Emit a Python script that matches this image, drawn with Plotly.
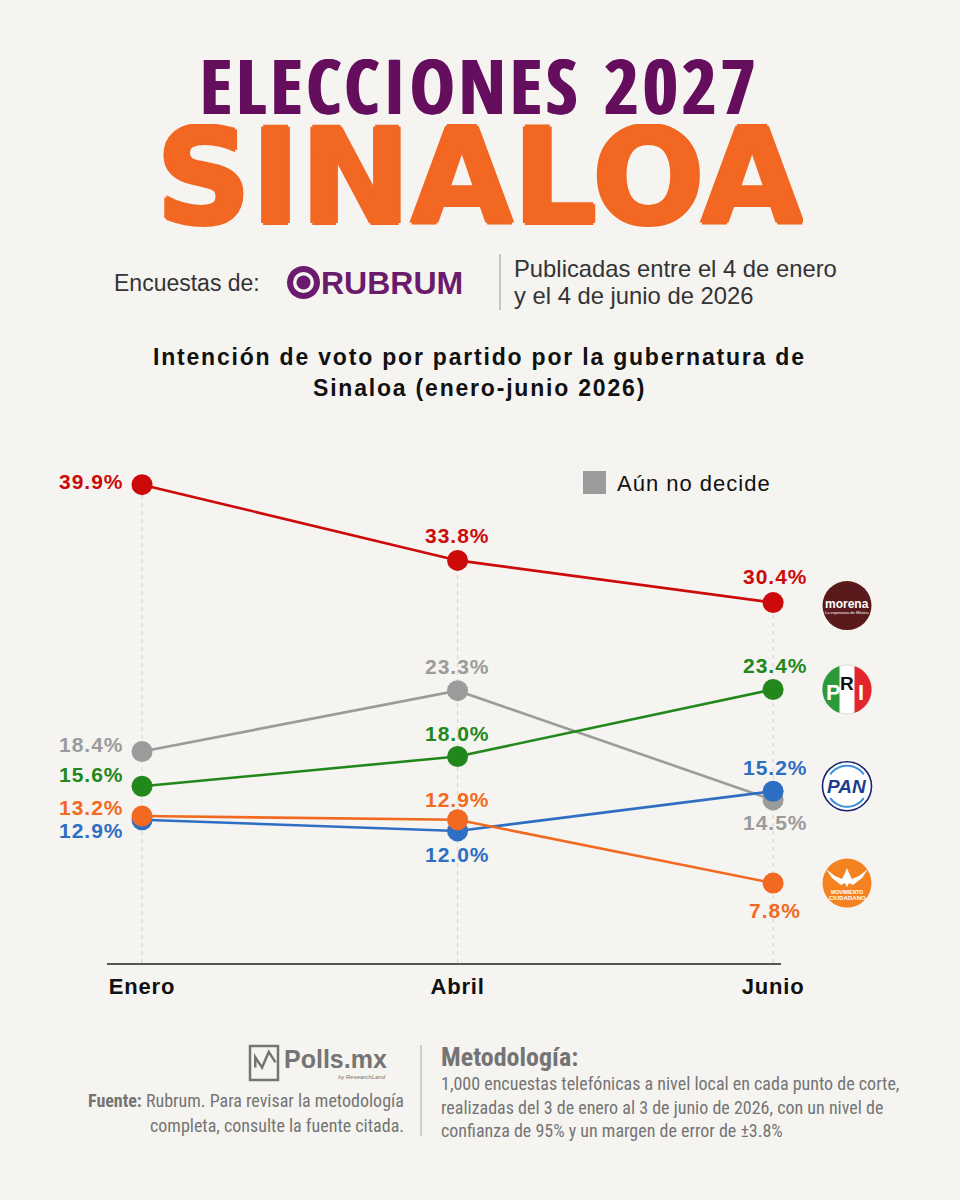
import math
import plotly.graph_objects as go

# ---------------- data ----------------
months = ["Enero", "Abril", "Junio"]
x_idx = [0, 1, 2]
undecided = [18.4, 23.3, 14.5]
pan = [12.9, 12.0, 15.2]
mc = [13.2, 12.9, 7.8]
pri = [15.6, 18.0, 23.4]
morena = [39.9, 33.8, 30.4]
legend_label = "Aún no decide"

# ---------------- styles ----------------
BG = "#f5f4f1"
C_GRAY = "#9b9b9b"
C_BLUE = "#2e6fc4"
C_ORANGE = "#f26a21"
C_GREEN = "#23881c"
C_RED = "#cc0a0a"
PURPLE = "#660e5e"
TITLE_ORANGE = "#f26722"
FONT = "Liberation Sans"
COND = "Roboto Condensed, Open Sans Condensed, Liberation Sans"

W, H = 960, 1200
L, R, T, B = 107, 781, 440, 963
Y_RANGE = [1.36, 43.5]
X_RANGE = [-0.111, 2.025]


def px(x):
    return (x - L) / (R - L)


def py(y):
    return (B - y) / (B - T)


def spaced(text, sp):
    return f'<span style="letter-spacing:{sp}px">{text}</span>'


series = [
    ("undecided", undecided, C_GRAY,
     [("right", -16, 7), ("center", 0, 24), ("center", 2, -23)]),
    ("pan", pan, C_BLUE,
     [("right", -16, -11), ("center", 0, -24), ("center", 2, 24)]),
    ("mc", mc, C_ORANGE,
     [("right", -16, 9), ("center", 0, 20), ("center", 2, -27)]),
    ("pri", pri, C_GREEN,
     [("right", -16, 12), ("center", 0, 23), ("center", 2, 24)]),
    ("morena", morena, C_RED,
     [("right", -16, 3), ("center", 0, 25), ("center", 2, 26)]),
]

fig = go.Figure()
annotations = []
shapes = []

for i in x_idx:
    top = max(s[1][i] for s in series)
    shapes.append(dict(type="line", xref="x", yref="y", x0=i, x1=i,
                       y0=Y_RANGE[0], y1=top, layer="below",
                       line=dict(color="#d2d2d2", width=1, dash="4px,4px")))

for name, vals, col, lab in series:
    fig.add_trace(go.Scatter(
        x=x_idx, y=vals, mode="lines+markers", name=name,
        line=dict(color=col, width=2.6),
        marker=dict(color=col, size=21, line=dict(width=0)),
        showlegend=False, cliponaxis=False, hoverinfo="skip"))
    for i, v in enumerate(vals):
        xa, xs, ys = lab[i]
        annotations.append(dict(
            x=x_idx[i], y=v, xref="x", yref="y", text=spaced(f"{v:.1f}%", 1),
            showarrow=False, xanchor=xa, yanchor="middle",
            xshift=xs, yshift=ys,
            font=dict(family=FONT, size=21, color=col, weight=700)))

# legend (undecided)
shapes.append(dict(type="rect", xref="paper", yref="paper",
                   x0=px(583), x1=px(606), y0=py(494), y1=py(471),
                   fillcolor=C_GRAY, line=dict(width=0)))
annotations.append(dict(x=px(615), y=py(483), xref="paper", yref="paper",
                        text=spaced(legend_label, 1), showarrow=False,
                        xanchor="left", yanchor="middle",
                        font=dict(family=FONT, size=22, color="#111")))

# ---------------- party logos (next to Junio points) ----------------
LOGO_X = px(847)
RAD = 24.5


def circ(val, dy, fill, line_col=None, lw=0, r=RAD):
    return dict(type="circle", xref="paper", yref="y", xsizemode="pixel",
                ysizemode="pixel", xanchor=LOGO_X, yanchor=val,
                x0=-r, x1=r, y0=dy - r, y1=dy + r,
                fillcolor=fill,
                line=dict(color=line_col or fill, width=lw))


def poly_path(points):
    return "M " + " L ".join(f"{a:.2f},{b:.2f}" for a, b in points) + " Z"


def open_path(points):
    return "M " + " L ".join(f"{a:.2f},{b:.2f}" for a, b in points)


def path_shape(val, path, fill=None, line_col=None, lw=0):
    d = dict(type="path", xref="paper", yref="y", xsizemode="pixel",
             ysizemode="pixel", xanchor=LOGO_X, yanchor=val, path=path,
             line=dict(color=line_col or "rgba(0,0,0,0)", width=lw))
    if fill:
        d["fillcolor"] = fill
    return d


def logo_text(val, dy, text, size, color, weight=700, style="normal",
              dx=0, family=FONT):
    annotations.append(dict(x=LOGO_X, y=val, xref="paper", yref="y",
                            text=text, showarrow=False, xanchor="center",
                            yanchor="middle", xshift=dx, yshift=dy,
                            font=dict(family=family, size=size, color=color,
                                      weight=weight, style=style)))


# Morena
m_dy = -3
shapes.append(circ(morena[2], m_dy, "#5a1a1b"))
logo_text(morena[2], m_dy + 2, "morena", 12, "white")
logo_text(morena[2], m_dy - 7, "La esperanza de México", 4, "white", 400)

# PRI
p_dy = 0
shapes.append(circ(pri[2], p_dy, "white", "#dddddd", 1))
cx = 7.5
phi = math.acos(-cx / RAD)
left_pts = []
for k in range(41):
    t = phi + (2 * math.pi - 2 * phi) * k / 40
    left_pts.append((RAD * math.cos(t), p_dy + RAD * math.sin(t)))
phi2 = math.acos(cx / RAD)
right_pts = []
for k in range(41):
    t = -phi2 + (2 * phi2) * k / 40
    right_pts.append((RAD * math.cos(t), p_dy + RAD * math.sin(t)))
shapes.append(path_shape(pri[2], poly_path(left_pts), "#2b9a3b"))
shapes.append(path_shape(pri[2], poly_path(right_pts), "#e3262e"))
logo_text(pri[2], p_dy - 3, "P", 22, "white", 700, dx=-14)
logo_text(pri[2], p_dy + 6, "R", 19, "#111", 700, dx=0)
logo_text(pri[2], p_dy - 3, "I", 22, "white", 700, dx=14)

# PAN
a_dy = 5
shapes.append(circ(pan[2], a_dy, "white", "#18246e", 1.6))
for a_start, a_end in [(35, 145), (215, 325)]:
    pts = []
    for k in range(25):
        t = math.radians(a_start + (a_end - a_start) * k / 24)
        pts.append((20.5 * math.cos(t), a_dy + 20.5 * math.sin(t)))
    shapes.append(path_shape(pan[2], open_path(pts), None, "#3d8fd8", 2))
logo_text(pan[2], a_dy, "PAN", 19, "#1c3c8e", 800, "italic")

# Movimiento Ciudadano
c_dy = 0
shapes.append(circ(mc[2], c_dy, "#f58220"))
wing = [(-21, 11), (-12, 4), (-5, 1), (-2, 7), (0, 12), (2, 7), (5, 1),
        (12, 4), (21, 11), (15, 2), (6, -5), (2, -3), (0, -7), (-2, -3),
        (-6, -5), (-15, 2)]
shapes.append(path_shape(mc[2], poly_path([(a, c_dy + 3 + b) for a, b in wing]),
                         "white"))
logo_text(mc[2], c_dy - 9, "MOVIMIENTO", 5, "white", 700)
logo_text(mc[2], c_dy - 15, "CIUDADANO", 6, "white", 700)

# ---------------- header ----------------
PS = PURPLE
annotations.append(dict(x=px(480), y=py(85), xref="paper", yref="paper",
                        text=spaced("ELECCIONES 2027", 4.2), showarrow=False,
                        xanchor="center", yanchor="middle", height=72,
                        font=dict(family="Open Sans Condensed, Roboto Condensed, Liberation Sans",
                                  size=75, color=PURPLE, weight=700,
                                  shadow=f"1px 0 0 {PS}, -1px 0 0 {PS}")))
ORS = TITLE_ORANGE
annotations.append(dict(x=px(480), y=py(177), xref="paper", yref="paper",
                        text="SINALOA", showarrow=False,
                        xanchor="center", yanchor="middle", height=106,
                        font=dict(family="DejaVu Sans", size=132,
                                  color=TITLE_ORANGE, weight=700,
                                  shadow=f"2px 0 0 {ORS}, -2px 0 0 {ORS}, 0 2px 0 {ORS}, 0 -2px 0 {ORS}")))

annotations.append(dict(x=px(112), y=py(283), xref="paper", yref="paper",
                        text="Encuestas de:", showarrow=False,
                        xanchor="left", yanchor="middle",
                        font=dict(family=FONT, size=23, color="#333")))
RUB = "#6a1b6c"
shapes.append(dict(type="circle", xref="paper", yref="paper",
                   x0=px(287), x1=px(320), y0=py(299), y1=py(266),
                   fillcolor=RUB, line=dict(width=0)))
shapes.append(dict(type="circle", xref="paper", yref="paper",
                   x0=px(293), x1=px(314), y0=py(293), y1=py(272),
                   fillcolor=BG, line=dict(width=0)))
shapes.append(dict(type="circle", xref="paper", yref="paper",
                   x0=px(296.5), x1=px(310.5), y0=py(289.5), y1=py(275.5),
                   fillcolor=RUB, line=dict(width=0)))
annotations.append(dict(x=px(319), y=py(283), xref="paper", yref="paper",
                        text="RUBRUM", showarrow=False,
                        xanchor="left", yanchor="middle",
                        font=dict(family=FONT, size=32, color=RUB,
                                  weight=700)))
shapes.append(dict(type="line", xref="paper", yref="paper",
                   x0=px(500), x1=px(500), y0=py(254), y1=py(310),
                   line=dict(color="#999", width=1)))
for txt, yy in [("Publicadas entre el 4 de enero", 268),
                ("y el 4 de junio de 2026", 295)]:
    annotations.append(dict(x=px(512), y=py(yy), xref="paper", yref="paper",
                            text=txt, showarrow=False,
                            xanchor="left", yanchor="middle",
                            font=dict(family=FONT, size=23.8, color="#333")))

for txt, yy in [("Intención de voto por partido por la gubernatura de", 357),
                ("Sinaloa (enero-junio 2026)", 388)]:
    annotations.append(dict(x=px(480), y=py(yy), xref="paper", yref="paper",
                            text=spaced(txt, 1.8), showarrow=False,
                            xanchor="center", yanchor="middle",
                            font=dict(family=FONT, size=23, color="#111",
                                      weight=700)))

# ---------------- footer ----------------
FG = "#747474"
shapes.append(dict(type="rect", xref="paper", yref="paper",
                   x0=px(250), x1=px(278), y0=py(1080), y1=py(1046),
                   line=dict(color=FG, width=2.5)))
shapes.append(dict(type="path", xref="paper", yref="paper",
                   path=open_path([(px(252), py(1070)), (px(258), py(1058)),
                                   (px(263), py(1066)), (px(268), py(1054)),
                                   (px(276), py(1062))]),
                   line=dict(color=FG, width=2.5)))
annotations.append(dict(x=px(282), y=py(1059), xref="paper", yref="paper",
                        text="Polls.mx", showarrow=False, xanchor="left",
                        yanchor="middle",
                        font=dict(family=FONT, size=25, color=FG,
                                  weight=700)))
annotations.append(dict(x=px(388), y=py(1077), xref="paper", yref="paper",
                        text="by ResearchLand", showarrow=False,
                        xanchor="right", yanchor="middle",
                        font=dict(family=FONT, size=6, color=FG,
                                  style="italic")))
for txt, yy in [("<b>Fuente:</b> Rubrum. Para revisar la metodología", 1100),
                ("completa, consulte la fuente citada.", 1125)]:
    annotations.append(dict(x=px(406), y=py(yy), xref="paper", yref="paper",
                            text=txt, showarrow=False, xanchor="right",
                            yanchor="middle",
                            font=dict(family=COND, size=18, color=FG)))
shapes.append(dict(type="line", xref="paper", yref="paper",
                   x0=px(421), x1=px(421), y0=py(1045), y1=py(1136),
                   line=dict(color="#aaa", width=1)))
annotations.append(dict(x=px(439), y=py(1057), xref="paper", yref="paper",
                        text="Metodología:", showarrow=False, xanchor="left",
                        yanchor="middle",
                        font=dict(family=COND, size=26, color=FG,
                                  weight=700)))
for txt, yy in [("1,000 encuestas telefónicas a nivel local en cada punto de corte,", 1083),
                ("realizadas del 3 de enero al 3 de junio de 2026, con un nivel de", 1107),
                ("confianza de 95% y un margen de error de ±3.8%", 1130)]:
    annotations.append(dict(x=px(439), y=py(yy), xref="paper", yref="paper",
                            text=txt, showarrow=False, xanchor="left",
                            yanchor="middle",
                            font=dict(family=COND, size=18, color=FG)))

fig.update_layout(
    width=W, height=H, autosize=False,
    margin=dict(l=L, r=W - R, t=T, b=H - B, pad=0),
    paper_bgcolor=BG, plot_bgcolor="rgba(0,0,0,0)",
    shapes=shapes, annotations=annotations,
    xaxis=dict(range=X_RANGE, tickvals=x_idx,
               ticktext=[spaced(m, 0.8) for m in months],
               showgrid=False, zeroline=False, showline=True,
               linecolor="#555", linewidth=2, ticks="outside", ticklen=3,
               tickcolor="rgba(0,0,0,0)", fixedrange=True,
               tickfont=dict(family=FONT, size=22, color="#111", weight=700)),
    yaxis=dict(range=Y_RANGE, visible=False, fixedrange=True),
    showlegend=False,
)

fig.write_html("out.html", config={"displayModeBar": False},
               post_script="document.body.style.margin='0';document.body.style.background='" + BG + "';")
